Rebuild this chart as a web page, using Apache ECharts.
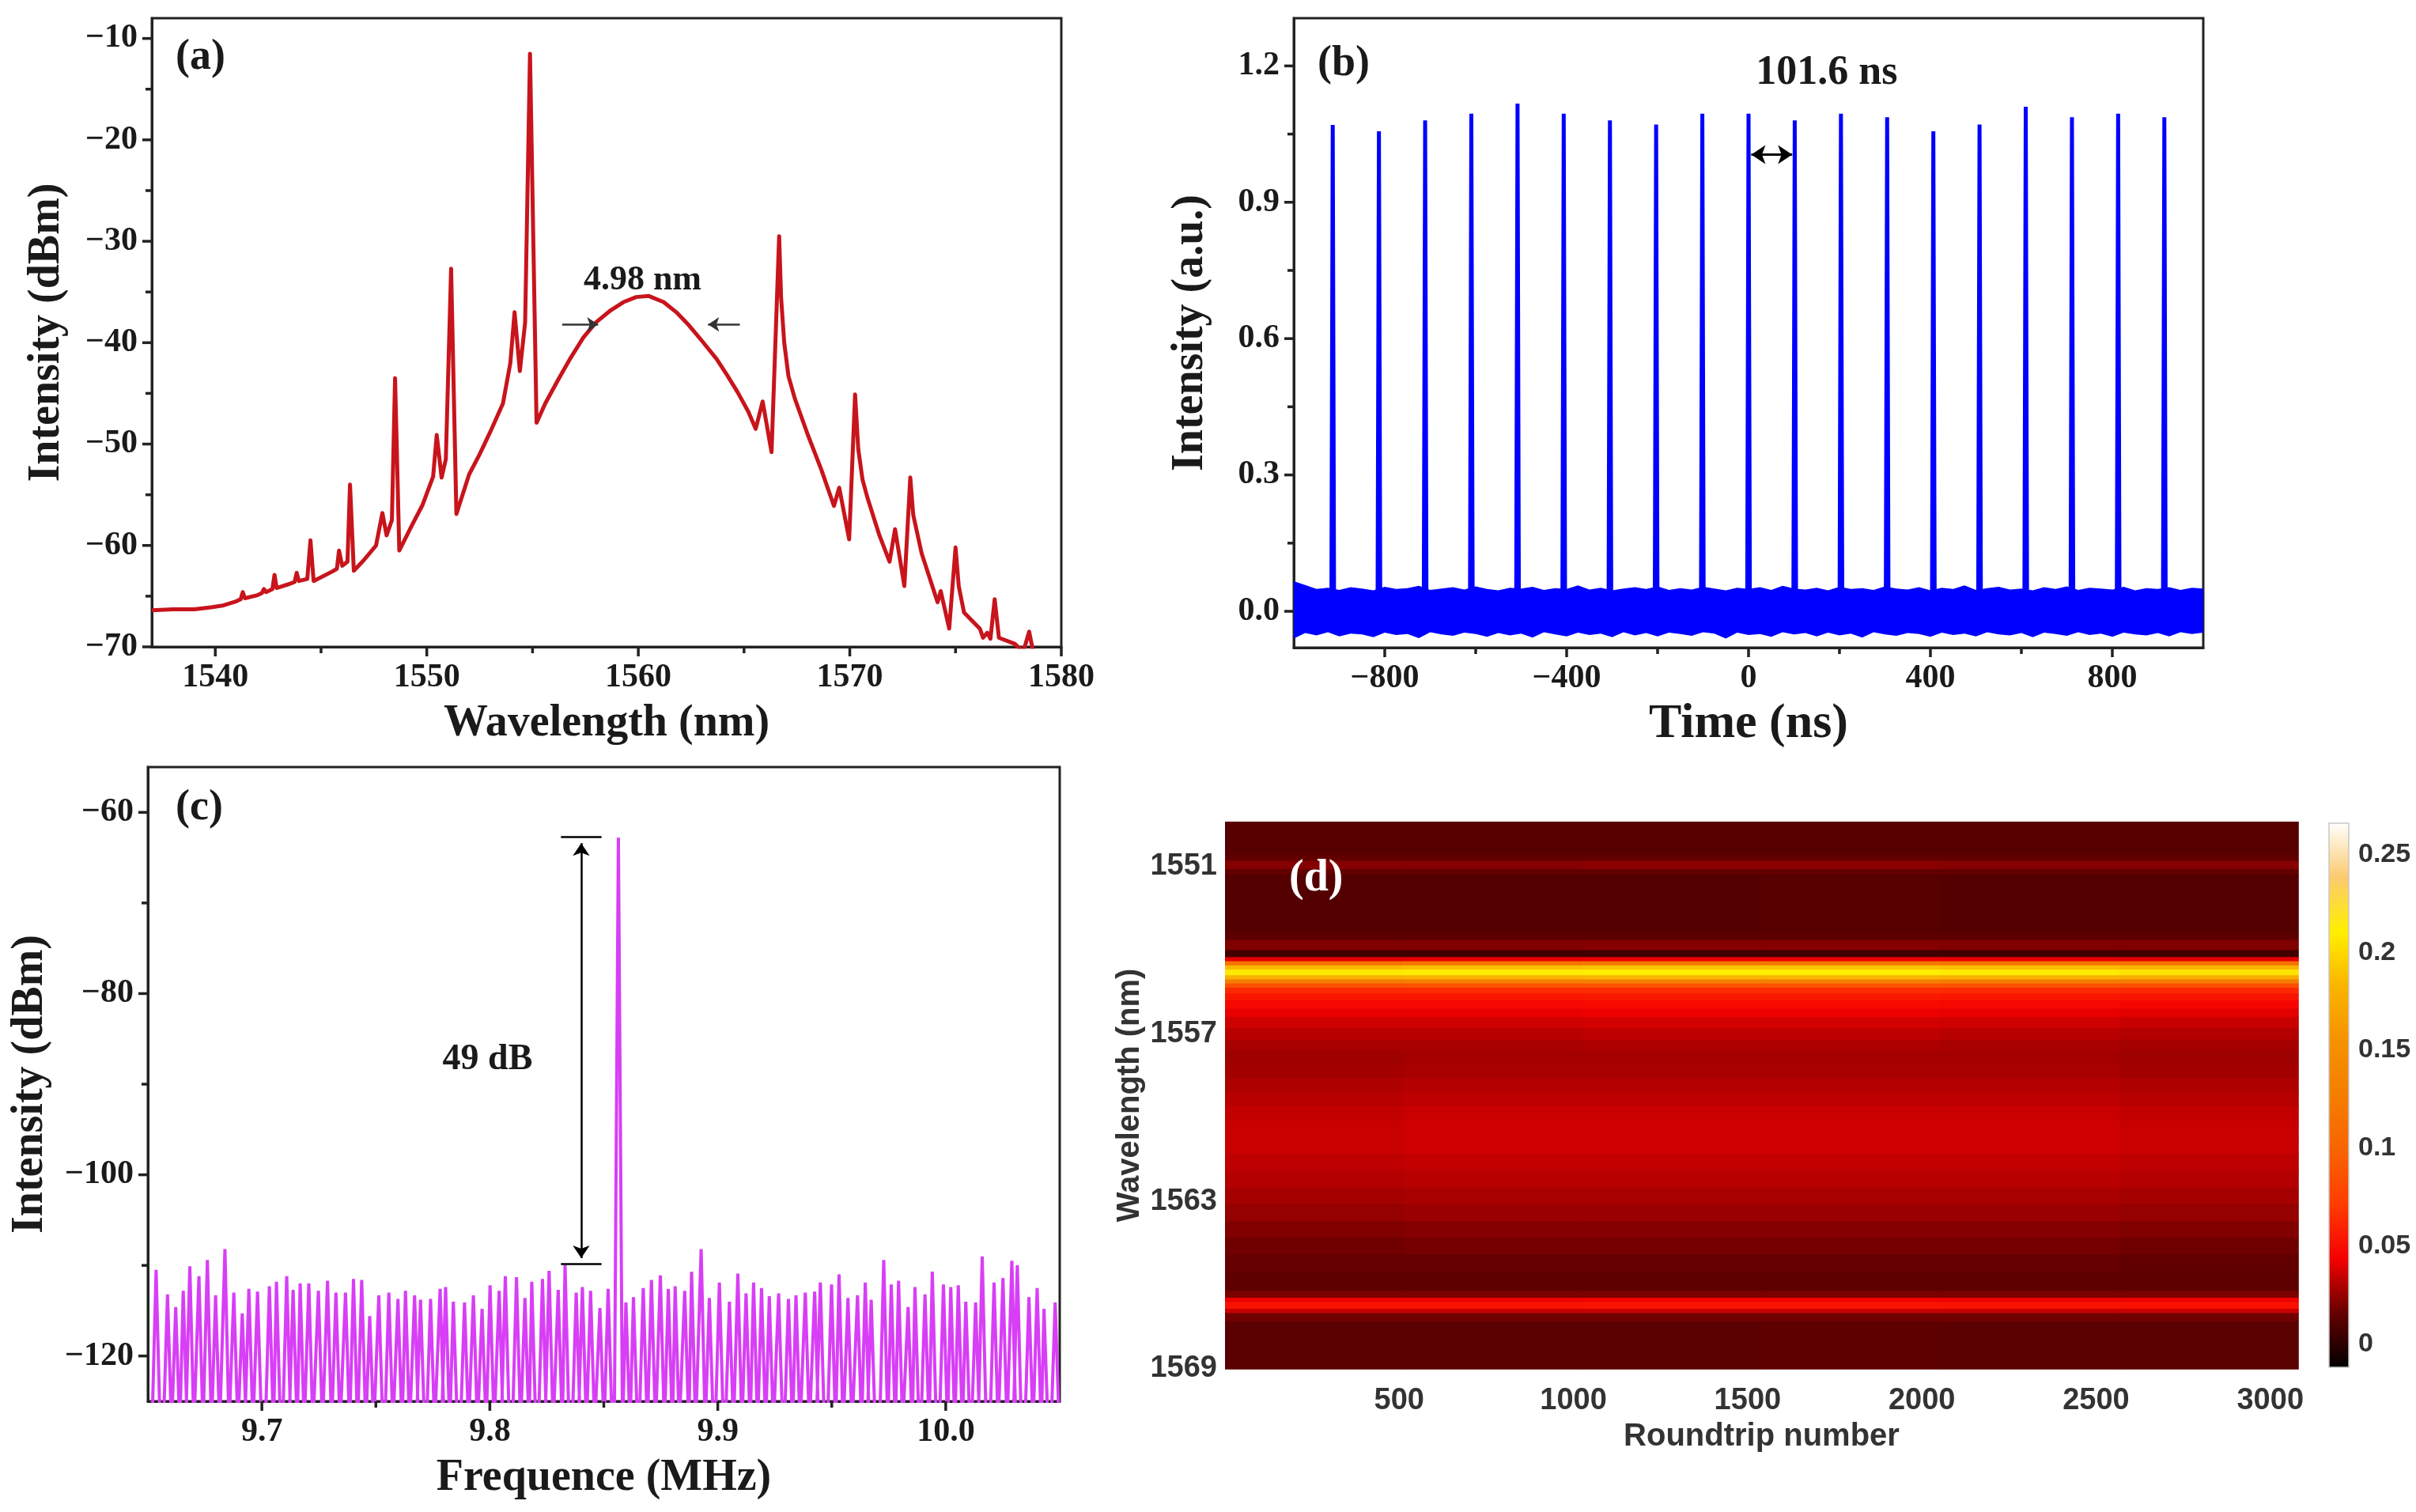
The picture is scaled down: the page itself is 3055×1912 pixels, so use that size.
<!DOCTYPE html>
<html>
<head>
<meta charset="utf-8">
<script src="https://cdn.jsdelivr.net/npm/echarts@6/dist/echarts.min.js"></script>
<style>
  html, body { margin: 0; padding: 0; background: #fff; }
  #main { width: 3055px; height: 1912px; }
</style>
</head>
<body>
<div id="main"></div>
<script>
// (a) optical spectrum
var specWl = [
  1537.0, 1538.0, 1539.0, 1539.8, 1540.4, 1541.0, 1541.2, 1541.3, 1541.4, 1542.0,
  1542.2, 1542.3, 1542.4, 1542.7, 1542.8, 1542.9, 1543.5, 1543.75, 1543.85, 1543.95,
  1544.35, 1544.5, 1544.65, 1545.5, 1545.75, 1545.85, 1546.0, 1546.25, 1546.37, 1546.55,
  1547.0, 1547.6, 1547.9, 1548.1, 1548.35, 1548.5, 1548.7, 1549.3, 1549.8, 1550.3,
  1550.47, 1550.7, 1550.9, 1551.15, 1551.4, 1552.0, 1552.5, 1553.0, 1553.6, 1553.95,
  1554.15, 1554.4, 1554.65, 1554.88, 1555.19, 1555.6, 1556.2, 1556.8, 1557.4, 1558.0,
  1558.7, 1559.3, 1559.9, 1560.5, 1561.2, 1561.8, 1562.4, 1563.0, 1563.7, 1564.2,
  1564.7, 1565.2, 1565.55, 1565.88, 1566.3, 1566.66, 1566.75, 1566.9, 1567.1, 1567.4,
  1568.0, 1568.65, 1569.25, 1569.5, 1569.97, 1570.25, 1570.4, 1570.6, 1570.85, 1571.4,
  1571.88, 1572.14, 1572.58, 1572.86, 1573.0, 1573.4, 1574.15, 1574.3, 1574.7, 1575.0,
  1575.15, 1575.4, 1576.15, 1576.3, 1576.5, 1576.65, 1576.85, 1577.05, 1577.8, 1578.2,
  1578.48, 1578.7, 1579.2
];
var specDbm = [
  -66.4, -66.3, -66.3, -66.1, -65.9, -65.5, -65.3, -64.6, -65.2, -64.9,
  -64.7, -64.3, -64.6, -64.3, -62.9, -64.2, -63.8, -63.6, -62.7, -63.5,
  -63.3, -59.5, -63.5, -62.6, -62.3, -60.5, -62.0, -61.6, -54.0, -62.5,
  -61.5, -60.0, -56.8, -59.0, -57.5, -43.5, -60.5, -58.0, -56.0, -53.2,
  -49.1, -53.3, -51.5, -32.7, -56.9, -53.0, -51.0, -48.8, -46.0, -42.0,
  -37.0, -42.8, -38.0, -11.5, -47.9, -46.0, -43.7, -41.5, -39.5, -38.0,
  -36.8, -36.0, -35.5, -35.4, -36.0, -37.0, -38.3, -39.8, -41.6, -43.2,
  -44.9, -46.8, -48.5, -45.8, -50.8, -29.5, -35.5, -40.0, -43.3, -45.5,
  -49.0, -52.5, -56.1, -54.3, -59.4, -45.1, -50.5, -53.5, -55.4, -59.0,
  -61.6, -58.4, -64.0, -53.3, -57.0, -60.8, -65.6, -64.5, -68.2, -60.2,
  -64.0, -66.6, -68.2, -69.1, -68.6, -69.2, -65.3, -69.1, -69.7, -70.5,
  -68.5, -70.8, -71.5
];

// (b) pulse train
var pulseTimes = [-914.4, -812.8, -711.2, -609.6, -508.0, -406.4, -304.8, -203.2, -101.6, 0,
  101.6, 203.2, 304.8, 406.4, 508.0, 609.6, 711.2, 812.8, 914.4];
var pulsePeaks = [1.070, 1.056, 1.080, 1.095, 1.117, 1.095, 1.080, 1.071, 1.095, 1.095,
  1.080, 1.095, 1.087, 1.056, 1.071, 1.110, 1.087, 1.095, 1.087];
var noiseTimes = [
  -1000, -975, -950, -925, -900, -875, -850, -825, -800, -775,
  -750, -725, -700, -675, -650, -625, -600, -575, -550, -525,
  -500, -475, -450, -425, -400, -375, -350, -325, -300, -275,
  -250, -225, -200, -175, -150, -125, -100, -75, -50, -25,
  0, 25, 50, 75, 100, 125, 150, 175, 200, 225,
  250, 275, 300, 325, 350, 375, 400, 425, 450, 475,
  500, 525, 550, 575, 600, 625, 650, 675, 700, 725,
  750, 775, 800, 825, 850, 875, 900, 925, 950, 975,
  1000
];
var noiseUpper = [
  0.066, 0.058, 0.049, 0.052, 0.047, 0.053, 0.050, 0.046, 0.054, 0.049,
  0.051, 0.056, 0.047, 0.050, 0.053, 0.048, 0.055, 0.049, 0.046, 0.052,
  0.050, 0.054, 0.047, 0.051, 0.049, 0.057, 0.048, 0.052, 0.046, 0.050,
  0.053, 0.049, 0.055, 0.047, 0.051, 0.048, 0.054, 0.050, 0.046, 0.052,
  0.049, 0.053, 0.047, 0.056, 0.050, 0.048, 0.052, 0.046, 0.054, 0.049,
  0.051, 0.047, 0.055, 0.050, 0.048, 0.053, 0.046, 0.052, 0.049, 0.057,
  0.047, 0.051, 0.054, 0.048, 0.050, 0.046, 0.053, 0.049, 0.055, 0.047,
  0.052, 0.050, 0.048, 0.054, 0.046, 0.051, 0.049, 0.053, 0.047, 0.052,
  0.050
];
var noiseLower = [
  -0.060, -0.048, -0.053, -0.046, -0.055, -0.049, -0.051, -0.057, -0.047, -0.052,
  -0.050, -0.059, -0.046, -0.051, -0.054, -0.047, -0.050, -0.056, -0.048, -0.053,
  -0.049, -0.058, -0.046, -0.051, -0.055, -0.047, -0.052, -0.049, -0.057, -0.046,
  -0.053, -0.048, -0.055, -0.047, -0.050, -0.054, -0.046, -0.049, -0.060, -0.047,
  -0.052, -0.050, -0.056, -0.046, -0.051, -0.048, -0.055, -0.047, -0.053, -0.049,
  -0.058, -0.046, -0.051, -0.054, -0.048, -0.050, -0.056, -0.047, -0.052, -0.049,
  -0.055, -0.046, -0.051, -0.053, -0.048, -0.057, -0.047, -0.050, -0.054, -0.046,
  -0.052, -0.049, -0.056, -0.047, -0.051, -0.053, -0.048, -0.055, -0.046, -0.050,
  -0.047
];

// (c) RF spectrum
var rfFreq = [
  9.6536, 9.6586, 9.6622, 9.6655, 9.6684, 9.6724, 9.6761, 9.6797, 9.6838, 9.6877,
  9.6914, 9.6943, 9.6981, 9.7033, 9.7064, 9.7109, 9.7137, 9.7168, 9.7206, 9.7248,
  9.7288, 9.7325, 9.7367, 9.7402, 9.7438, 9.7473, 9.7513, 9.7557, 9.7597, 9.7630,
  9.7670, 9.7696, 9.7740, 9.7782, 9.7806, 9.7840, 9.7889, 9.7928, 9.7966, 9.8001,
  9.8041, 9.8068, 9.8117, 9.8154, 9.8184, 9.8231, 9.8260, 9.8300, 9.8330, 9.8379,
  9.8406, 9.8442, 9.8483, 9.8519, 9.8564, 9.8597, 9.8630, 9.8673, 9.8709, 9.8748,
  9.8783, 9.8813, 9.8855, 9.8885, 9.8927, 9.8963, 9.9007, 9.9051, 9.9088, 9.9124,
  9.9157, 9.9192, 9.9226, 9.9267, 9.9310, 9.9343, 9.9384, 9.9425, 9.9450, 9.9499,
  9.9532, 9.9571, 9.9613, 9.9647, 9.9673, 9.9728, 9.9761, 9.9793, 9.9835, 9.9865,
  9.9909, 9.9941, 9.9990, 10.0022, 10.0055, 10.0088, 10.0131, 10.0160, 10.0212, 10.0251,
  10.0290, 10.0314, 10.0365, 10.0401, 10.0431, 10.0480
];
var rfLevel = [
  -110.5, -113.2, -114.6, -112.8, -110.1, -111.2, -109.4, -113.3, -108.2, -113.0,
  -115.3, -112.6, -112.9, -112.3, -111.8, -111.2, -112.7, -112.0, -112.0, -112.8,
  -111.7, -113.0, -113.0, -111.5, -111.6, -115.6, -113.3, -113.0, -113.7, -112.8,
  -113.3, -113.8, -113.7, -112.6, -112.4, -114.0, -114.1, -113.3, -114.8, -112.2,
  -112.8, -111.2, -111.3, -113.6, -111.8, -111.5, -110.6, -112.7, -110.0, -113.0,
  -112.4, -112.8, -114.7, -112.6, -62.8, -114.1, -113.5, -112.5, -111.6, -111.1,
  -112.6, -112.3, -112.8, -110.7, -108.2, -113.6, -111.9, -114.0, -110.9, -113.1,
  -111.9, -112.5, -113.4, -113.1, -113.7, -113.3, -113.0, -112.9, -111.9, -112.1,
  -111.0, -113.6, -113.3, -111.9, -113.8, -109.4, -112.1, -111.7, -114.6, -112.4,
  -113.2, -110.7, -112.1, -112.4, -112.2, -114.0, -114.1, -109.0, -111.9, -111.4,
  -109.5, -110.0, -113.5, -112.5, -114.8, -114.1
];

// (d) spectral evolution map: wavelength rows x roundtrip columns
var mapRowEdges = [
  1549.4, 1550.6, 1550.8, 1551.1, 1551.3, 1553.4, 1553.65, 1554.0, 1554.25, 1554.4,
  1554.55, 1554.7, 1554.9, 1555.05, 1555.2, 1555.35, 1555.55, 1555.8, 1556.1, 1556.4,
  1556.8, 1557.2, 1557.6, 1558.1, 1558.6, 1559.1, 1559.6, 1560.1, 1560.7, 1561.3,
  1561.9, 1562.5, 1563.1, 1563.7, 1564.3, 1564.9, 1565.5, 1566.2, 1566.45, 1566.6,
  1566.85, 1567.0, 1567.3, 1569.0
];
var mapColEdges = [0, 513, 1027, 1540, 2053, 2567, 3080];
var mapValues = [
  [0.012, 0.012, 0.012, 0.012, 0.012, 0.012],
  [0.015, 0.015, 0.015, 0.015, 0.015, 0.015],
  [0.022, 0.022, 0.023, 0.023, 0.022, 0.022],
  [0.015, 0.015, 0.015, 0.015, 0.015, 0.015],
  [0.011, 0.011, 0.011, 0.012, 0.011, 0.011],
  [0.014, 0.014, 0.014, 0.014, 0.014, 0.014],
  [0.021, 0.021, 0.022, 0.022, 0.021, 0.021],
  [0.006, 0.006, 0.006, 0.006, 0.006, 0.006],
  [0.040, 0.041, 0.042, 0.042, 0.041, 0.040],
  [0.115, 0.117, 0.119, 0.119, 0.117, 0.114],
  [0.185, 0.188, 0.190, 0.190, 0.187, 0.183],
  [0.207, 0.209, 0.211, 0.211, 0.208, 0.205],
  [0.179, 0.181, 0.183, 0.183, 0.180, 0.177],
  [0.125, 0.127, 0.128, 0.128, 0.126, 0.123],
  [0.085, 0.086, 0.087, 0.087, 0.086, 0.084],
  [0.063, 0.064, 0.064, 0.064, 0.063, 0.062],
  [0.054, 0.054, 0.055, 0.055, 0.054, 0.053],
  [0.047, 0.047, 0.048, 0.048, 0.047, 0.046],
  [0.041, 0.041, 0.042, 0.042, 0.041, 0.040],
  [0.036, 0.036, 0.037, 0.037, 0.036, 0.035],
  [0.032, 0.032, 0.033, 0.033, 0.032, 0.031],
  [0.029, 0.029, 0.030, 0.030, 0.029, 0.028],
  [0.027, 0.028, 0.028, 0.028, 0.028, 0.027],
  [0.028, 0.029, 0.029, 0.029, 0.029, 0.028],
  [0.030, 0.031, 0.031, 0.031, 0.031, 0.030],
  [0.032, 0.033, 0.033, 0.033, 0.033, 0.032],
  [0.034, 0.035, 0.035, 0.035, 0.035, 0.034],
  [0.035, 0.036, 0.036, 0.036, 0.036, 0.035],
  [0.035, 0.036, 0.036, 0.036, 0.036, 0.035],
  [0.033, 0.034, 0.034, 0.034, 0.034, 0.033],
  [0.031, 0.032, 0.032, 0.032, 0.032, 0.031],
  [0.028, 0.029, 0.029, 0.029, 0.029, 0.028],
  [0.025, 0.026, 0.026, 0.026, 0.026, 0.025],
  [0.021, 0.022, 0.022, 0.022, 0.022, 0.021],
  [0.018, 0.019, 0.019, 0.019, 0.019, 0.018],
  [0.016, 0.016, 0.016, 0.016, 0.016, 0.015],
  [0.014, 0.014, 0.014, 0.014, 0.014, 0.014],
  [0.020, 0.020, 0.020, 0.020, 0.020, 0.020],
  [0.042, 0.042, 0.043, 0.043, 0.042, 0.042],
  [0.052, 0.052, 0.053, 0.053, 0.052, 0.051],
  [0.035, 0.035, 0.035, 0.035, 0.035, 0.035],
  [0.018, 0.018, 0.018, 0.018, 0.018, 0.018],
  [0.013, 0.013, 0.013, 0.014, 0.013, 0.013]
];
var cbMin = -0.012, cbMax = 0.266;
var hotPalette = ['#000000', '#650000', '#f50000', '#ff3c00', '#f86400', '#f47e00',
  '#f59200', '#fab400', '#ffef00', '#fbca70', '#ffffff'];

// tick values and labels
var aXTicks = [1540, 1545, 1550, 1555, 1560, 1565, 1570, 1575, 1580];
var aXLabels = [1540, 1550, 1560, 1570, 1580];
var aYTicks = [-70, -65, -60, -55, -50, -45, -40, -35, -30, -25, -20, -15, -10];
var aYLabels = [-70, -60, -50, -40, -30, -20, -10];
var bXTicks = [-800, -600, -400, -200, 0, 200, 400, 600, 800];
var bXLabels = [-800, -400, 0, 400, 800];
var bYTicks = [0, 0.15, 0.3, 0.45, 0.6, 0.75, 0.9, 1.05, 1.2];
var bYLabels = [0, 0.3, 0.6, 0.9, 1.2];
var cXTicks = [9.7, 9.75, 9.8, 9.85, 9.9, 9.95, 10.0];
var cXLabels = [9.7, 9.8, 9.9, 10.0];
var cYTicks = [-120, -110, -100, -90, -80, -70, -60];
var cYLabels = [-120, -100, -80, -60];
var dXLabels = [500, 1000, 1500, 2000, 2500, 3000];
var dYLabels = [1551, 1557, 1563, 1569];
var cbLabels = [0, 0.05, 0.1, 0.15, 0.2, 0.25];

var SERIF = "'Liberation Serif', 'DejaVu Serif', serif";
var SANS = "'Liberation Sans', Arial, sans-serif";
var INK = '#1a1a1a';

function minusFmt(v) { return String(v).replace('-', '\u2212'); }
function plainFmt(v) { return String(v); }

function serifAxis(grid, min, max, labels, fmt, name, nameGap, nameSize) {
  return {
    type: 'value', gridIndex: grid, min: min, max: max,
    axisLine: { show: true, onZero: false, lineStyle: { color: '#222', width: 3 } },
    splitLine: { show: false },
    axisTick: { show: false },
    axisLabel: { customValues: labels, formatter: fmt, fontFamily: SERIF, fontWeight: 'bold',
      fontSize: 42, color: INK, margin: 18 },
    name: name, nameLocation: 'middle', nameGap: nameGap,
    nameTextStyle: { fontFamily: SERIF, fontWeight: 'bold', fontSize: nameSize || 56, color: INK }
  };
}

function textPoint(coord, text, size, color) {
  return {
    coord: coord, symbol: 'circle', symbolSize: 0,
    label: { show: true, formatter: text, fontFamily: SERIF, fontWeight: 'bold',
      fontSize: size, color: color || INK }
  };
}

// outward tick marks, placed through the axes of one grid
function tickSeries(axisIdx, xMin, yMin, xTicks, xLabels, yTicks, yLabels) {
  var data = [];
  xTicks.forEach(function (v) { data.push([v, yMin, 0, xLabels.indexOf(v) >= 0 ? 1 : 0]); });
  yTicks.forEach(function (v) { data.push([xMin, v, 1, yLabels.indexOf(v) >= 0 ? 1 : 0]); });
  return {
    type: 'custom', xAxisIndex: axisIdx, yAxisIndex: axisIdx, data: data, silent: true,
    z: 10, clip: false,
    renderItem: function (params, api) {
      var p = api.coord([api.value(0), api.value(1)]);
      var len = api.value(3) ? 12 : 8;
      var shape = api.value(2) === 0
        ? { x1: p[0], y1: p[1], x2: p[0], y2: p[1] + len }
        : { x1: p[0] - len, y1: p[1], x2: p[0], y2: p[1] };
      return { type: 'line', shape: shape, style: { stroke: '#222', lineWidth: 3.5 } };
    }
  };
}

// build series data from the arrays
var specData = specWl.map(function (w, i) { return [w, specDbm[i]]; });

var pulseData = [[-1000, 0]];
pulseTimes.forEach(function (t, i) {
  pulseData.push([t - 3, 0], [t, pulsePeaks[i]], [t + 3, 0]);
});
pulseData.push([1000, 0]);

var RF_FLOOR = -128, RF_HALF = 0.0018;
var rfData = [[9.65, RF_FLOOR]];
rfFreq.forEach(function (f, i) {
  rfData.push([f - RF_HALF, RF_FLOOR], [f, rfLevel[i]], [f + RF_HALF, RF_FLOOR]);
});
rfData.push([10.05, RF_FLOOR]);

var mapData = [];
for (var r = 0; r < mapValues.length; r++) {
  for (var c = 0; c < mapColEdges.length - 1; c++) {
    mapData.push([mapColEdges[c], mapColEdges[c + 1], mapRowEdges[r], mapRowEdges[r + 1], mapValues[r][c]]);
  }
}

var chart = echarts.init(document.getElementById('main'));

var option = {
  animation: false,
  backgroundColor: '#ffffff',
  grid: [
    { left: 192, top: 23, width: 1150, height: 795, show: true, borderColor: '#222', borderWidth: 3 },
    { left: 1636, top: 23, width: 1150, height: 796, show: true, borderColor: '#222', borderWidth: 3 },
    { left: 187, top: 970, width: 1153, height: 802, show: true, borderColor: '#222', borderWidth: 3 },
    { left: 1549, top: 1039, width: 1357, height: 692, show: false },
    { left: 2945, top: 1041, width: 25, height: 688, show: false }
  ],
  xAxis: [
    serifAxis(0, 1537, 1580, aXLabels, minusFmt, 'Wavelength (nm)', 70),
    serifAxis(1, -1000, 1000, bXLabels, minusFmt, 'Time (ns)', 66, 62),
    serifAxis(2, 9.65, 10.05, cXLabels, function (v) { return v.toFixed(1); }, 'Frequence (MHz)', 70),
    {
      type: 'value', gridIndex: 3, min: 0, max: 3080,
      axisLine: { show: false, onZero: false }, axisTick: { show: false }, splitLine: { show: false },
      axisLabel: { customValues: dXLabels, formatter: plainFmt, fontFamily: SANS, fontWeight: 'bold', fontSize: 38,
        color: '#333', margin: 22 },
      name: 'Roundtrip number', nameLocation: 'middle', nameGap: 66,
      nameTextStyle: { fontFamily: SANS, fontWeight: 'bold', fontSize: 40, color: '#333' }
    },
    { type: 'value', gridIndex: 4, min: 0, max: 1, show: false }
  ],
  yAxis: [
    serifAxis(0, -70, -8, aYLabels, minusFmt, 'Intensity (dBm)', 104),
    serifAxis(1, -0.08, 1.305, bYLabels, function (v) { return v.toFixed(1); }, 'Intensity (a.u.)', 102),
    serifAxis(2, -125, -55, cYLabels, minusFmt, 'Intensity (dBm)', 120),
    {
      type: 'value', gridIndex: 3, min: 1549.4, max: 1569, inverse: true,
      axisLine: { show: false, onZero: false }, axisTick: { show: false }, splitLine: { show: false },
      axisLabel: { customValues: dYLabels, formatter: plainFmt, fontFamily: SANS, fontWeight: 'bold', fontSize: 38,
        color: '#333', margin: 10 },
      name: 'Wavelength (nm)', nameLocation: 'middle', nameGap: 100,
      nameTextStyle: { fontFamily: SANS, fontWeight: 'bold', fontSize: 40, color: '#333' }
    },
    {
      type: 'value', gridIndex: 4, min: cbMin, max: cbMax, position: 'right',
      axisLine: { show: false, onZero: false }, axisTick: { show: false }, splitLine: { show: false },
      axisLabel: { customValues: cbLabels, formatter: plainFmt, fontFamily: SANS, fontWeight: 'bold', fontSize: 34,
        color: '#333', margin: 12 }
    }
  ],
  visualMap: [{
    type: 'continuous', show: false, seriesIndex: 4, dimension: 4,
    min: cbMin, max: cbMax, inRange: { color: hotPalette }
  }],
  series: [
    {
      type: 'line', xAxisIndex: 0, yAxisIndex: 0, data: specData,
      showSymbol: false, clip: true,
      lineStyle: { color: '#c8141c', width: 5, join: 'round' },
      markLine: {
        silent: true, symbol: ['none', 'arrow'], symbolSize: 14,
        label: { show: false },
        lineStyle: { color: '#333', width: 2.5, type: 'solid' },
        data: [
          [{ coord: [1556.4, -38.2] }, { coord: [1558.1, -38.2] }],
          [{ coord: [1564.8, -38.2] }, { coord: [1563.3, -38.2] }]
        ]
      },
      markPoint: { silent: true, data: [textPoint([1560.2, -33.9], '4.98 nm', 44)] }
    },
    {
      type: 'custom', xAxisIndex: 1, yAxisIndex: 1, data: [[0, 0]],
      renderItem: function (params, api) {
        var pts = [];
        for (var i = 0; i < noiseTimes.length; i++) pts.push(api.coord([noiseTimes[i], noiseUpper[i]]));
        for (var j = noiseTimes.length - 1; j >= 0; j--) pts.push(api.coord([noiseTimes[j], noiseLower[j]]));
        return { type: 'polygon', shape: { points: pts }, style: { fill: '#0000ff' } };
      }
    },
    {
      type: 'line', xAxisIndex: 1, yAxisIndex: 1, data: pulseData,
      showSymbol: false, clip: true,
      lineStyle: { color: '#0000ff', width: 5 },
      markLine: {
        silent: true, symbol: ['arrow', 'arrow'], symbolSize: 18,
        label: { show: false },
        lineStyle: { color: '#000', width: 3, type: 'solid' },
        data: [[{ coord: [6, 1.005] }, { coord: [96, 1.005] }]]
      },
      markPoint: { silent: true, data: [textPoint([172, 1.184], '101.6 ns', 52)] }
    },
    {
      type: 'line', xAxisIndex: 2, yAxisIndex: 2, data: rfData,
      showSymbol: false, clip: true,
      lineStyle: { color: '#d83ef6', width: 4 },
      markLine: {
        silent: true, symbol: ['arrow', 'arrow'], symbolSize: 16,
        label: { show: false },
        lineStyle: { color: '#000', width: 2.5, type: 'solid' },
        data: [
          [{ coord: [9.8401, -63.4] }, { coord: [9.8401, -109.2] }],
          [{ coord: [9.8312, -62.7], symbol: 'none' }, { coord: [9.8490, -62.7], symbol: 'none' }],
          [{ coord: [9.8312, -109.8], symbol: 'none' }, { coord: [9.8490, -109.8], symbol: 'none' }]
        ]
      },
      markPoint: { silent: true, data: [textPoint([9.799, -87.3], '49 dB', 46)] }
    },
    {
      type: 'custom', xAxisIndex: 3, yAxisIndex: 3, data: mapData,
      encode: { x: [0, 1], y: [2, 3] },
      renderItem: function (params, api) {
        var p0 = api.coord([api.value(0), api.value(2)]);
        var p1 = api.coord([api.value(1), api.value(3)]);
        return {
          type: 'rect',
          shape: { x: Math.min(p0[0], p1[0]), y: Math.min(p0[1], p1[1]),
            width: Math.abs(p1[0] - p0[0]) + 0.8, height: Math.abs(p1[1] - p0[1]) + 0.8 },
          style: { fill: api.visual('color') }
        };
      }
    },
    {
      type: 'custom', xAxisIndex: 4, yAxisIndex: 4, data: [[0, cbMin, 1, cbMax]],
      encode: { x: [0, 2], y: [1, 3] },
      renderItem: function (params, api) {
        var p0 = api.coord([api.value(0), api.value(1)]);
        var p1 = api.coord([api.value(2), api.value(3)]);
        var stops = hotPalette.map(function (col, i) { return { offset: i / (hotPalette.length - 1), color: col }; });
        return {
          type: 'rect',
          shape: { x: p0[0], y: p1[1], width: p1[0] - p0[0], height: p0[1] - p1[1] },
          style: { fill: new echarts.graphic.LinearGradient(0, 1, 0, 0, stops), stroke: '#c8c8c8', lineWidth: 1.5 }
        };
      }
    },
    tickSeries(0, 1537, -70, aXTicks, aXLabels, aYTicks, aYLabels),
    tickSeries(1, -1000, -0.08, bXTicks, bXLabels, bYTicks, bYLabels),
    tickSeries(2, 9.65, -125, cXTicks, cXLabels, cYTicks, cYLabels)
  ],
  graphic: [
    { type: 'text', left: 222, top: 46, style: { text: '(a)', font: 'bold 54px ' + SERIF, fill: INK } },
    { type: 'text', left: 1666, top: 54, style: { text: '(b)', font: 'bold 54px ' + SERIF, fill: INK } },
    { type: 'text', left: 222, top: 995, style: { text: '(c)', font: 'bold 54px ' + SERIF, fill: INK } },
    { type: 'text', left: 1630, top: 1084, z: 100, style: { text: '(d)', font: 'bold 56px ' + SERIF, fill: '#ffffff' } }
  ]
};

chart.setOption(option);
</script>
</body>
</html>
